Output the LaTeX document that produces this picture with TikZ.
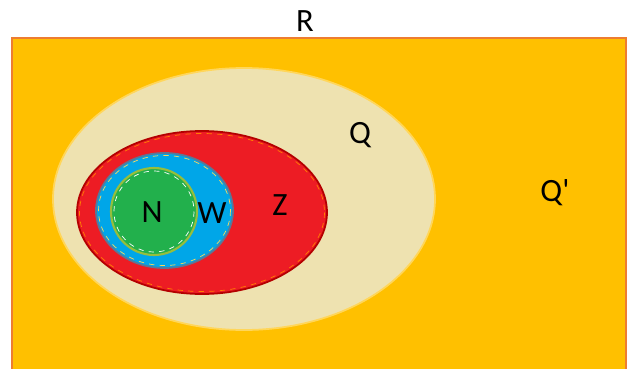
\documentclass[tikz,border=0pt]{standalone}
\usepackage{fontspec}
\setmainfont{Carlito}
\usepackage{tikz}
\usetikzlibrary{calc}
\usepackage{xcolor}
\definecolor{setR}{RGB}{255,192,0}
\definecolor{edgeR}{RGB}{237,125,49}
\definecolor{setQ}{RGB}{238,226,176}
\definecolor{edgeQ}{RGB}{255,214,90}
\definecolor{setZ}{RGB}{237,28,36}
\definecolor{edgeZ}{RGB}{180,0,0}
\definecolor{setW}{RGB}{0,166,232}
\definecolor{edgeW}{RGB}{90,120,150}
\definecolor{setN}{RGB}{34,176,76}
\definecolor{edgeN}{RGB}{150,190,60}

\begin{document}
\begin{tikzpicture}[x=0.02cm,y=-0.02cm,
  lbl/.style={font=\fontsize{18.5}{20}\selectfont,text=black,inner sep=0pt}]
  \useasboundingbox (0,0) rectangle (627,369);
  \clip (0,0) rectangle (627,369);
  \filldraw[fill=setR,draw=edgeR,line width=1.2pt](12,38) rectangle (626,380);
  % nested sets
  \filldraw[fill=setQ,draw=edgeQ,line width=1pt](244,199) ellipse[x radius=191,y radius=131];
  \filldraw[fill=setZ,draw=edgeZ,line width=1pt](202,212.5) ellipse[x radius=125,y radius=81.5];
  \draw[orange,dashed,line width=0.4pt](202,212.5) ellipse[x radius=122.5,y radius=79];
  \filldraw[fill=setW,draw=edgeW,line width=1pt](164.5,210.5) ellipse[x radius=68.5,y radius=57.5];
  \draw[edgeQ,dashed,line width=0.4pt](164.5,210.5) ellipse[x radius=66,y radius=55];
  \filldraw[fill=setN,draw=edgeN,line width=1.2pt](154,211.5) ellipse[x radius=43,y radius=43.5];
  \draw[white,dashed,line width=0.4pt](154,211.5) ellipse[x radius=40,y radius=40.5];
  % labels
  \node[lbl] (lblR) at (305,21){R};
  \node[lbl] (lblQ) at (360,135){Q};
  \node[lbl] (lblQc) at (555,193){Q\textquotesingle};
  \node[lbl] (lblZ) at (280,205){Z};
  \node[lbl] (lblW) at (212,213){W};
  \node[lbl] (lblN) at (152,212){N};
\end{tikzpicture}
\end{document}
